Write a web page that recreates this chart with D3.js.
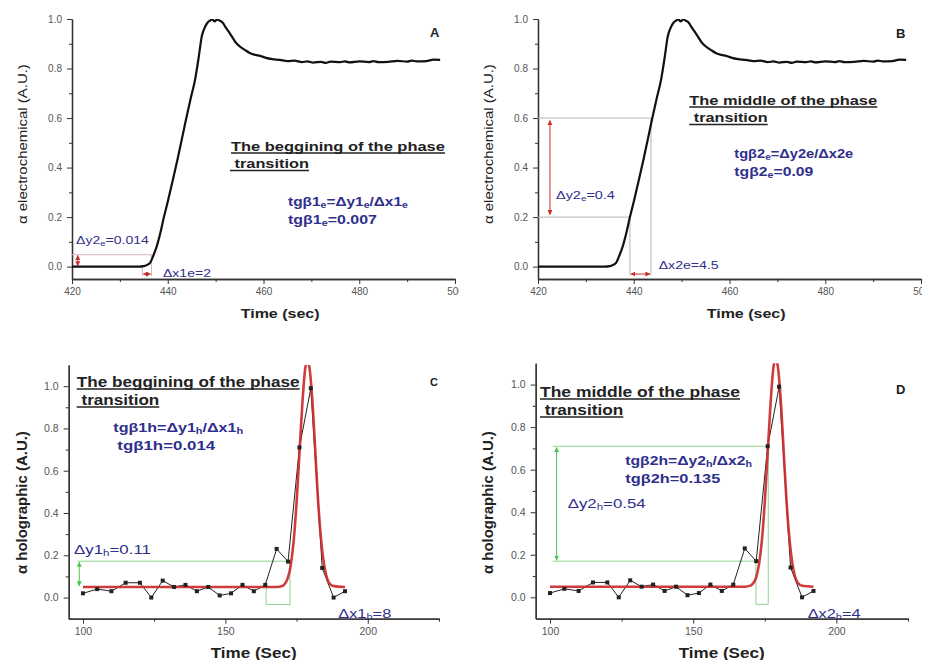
<!DOCTYPE html>
<html>
<head>
<meta charset="utf-8">
<script src="https://cdn.jsdelivr.net/npm/d3@7"></script>
<style>
body { margin: 0; background: #fff; }
text { font-family: "Liberation Sans", Arial, sans-serif; }
</style>
</head>
<body>
<svg id="chart" width="932" height="660"></svg>
<script>
//DATA - electrochemical signal (panels A, B)
const electroTime = [420, 425, 430, 434, 435, 435.6, 436.3, 437, 437.7, 438.5, 439.2, 440, 441, 442, 443, 443.8, 444.8, 445.7, 446.5, 447.1, 447.8, 448.3, 448.8, 449.3, 449.8, 450.3, 450.9, 451.5, 452, 452.7, 453.4, 454.2, 455, 456.1, 457.2, 458.3, 459.3, 460.5, 461.8, 463.4, 465, 466.5, 468, 469.2, 470.4, 472, 473, 474, 476, 477, 478, 480, 482, 483, 484, 486, 488, 490, 491, 492, 494, 495.5, 496.9];
const electroValue = [0, 0, 0, 0, 0.002, 0.006, 0.015, 0.045, 0.082, 0.14, 0.2, 0.262, 0.345, 0.43, 0.52, 0.593, 0.68, 0.754, 0.85, 0.929, 0.969, 0.985, 0.993, 0.998, 0.99, 0.998, 0.993, 0.985, 0.969, 0.95, 0.929, 0.905, 0.89, 0.875, 0.862, 0.855, 0.851, 0.843, 0.838, 0.835, 0.83, 0.832, 0.826, 0.829, 0.824, 0.827, 0.823, 0.828, 0.826, 0.829, 0.825, 0.829, 0.826, 0.83, 0.826, 0.827, 0.831, 0.828, 0.832, 0.829, 0.83, 0.836, 0.835];

//DATA - holographic signal (panels C, D)
const holoTime = [100, 105, 110, 115, 120, 124, 128, 132, 136, 140, 144, 148, 152, 156, 160, 164, 168, 172, 176, 180, 184, 188, 192];
const holoValue = [0.02, 0.04, 0.03, 0.07, 0.07, 0.0, 0.08, 0.05, 0.06, 0.03, 0.05, 0.01, 0.02, 0.06, 0.03, 0.06, 0.23, 0.17, 0.71, 0.99, 0.14, 0.0, 0.03];
//fitted peak (red)
const fitTime = [100, 166, 168, 170, 171, 172, 173, 174, 175, 176, 177, 178, 178.8, 179.6, 180.5, 181.5, 182.5, 183.5, 184.5, 185.5, 186.5, 188, 192];
const fitValue = [0.05, 0.05, 0.05, 0.055, 0.067, 0.095, 0.157, 0.27, 0.45, 0.68, 0.91, 1.08, 1.12, 1.08, 0.94, 0.71, 0.47, 0.29, 0.17, 0.1, 0.068, 0.054, 0.05];

//TICKS
const electroXTicks = [420, 440, 460, 480, 500];
const electroXMinor = [430, 450, 470, 490];
const holoXTicks = [100, 150, 200];
const holoXMinor = [125, 175, 225];
const yTicks = [0, 0.2, 0.4, 0.6, 0.8, 1.0];
const yMinor = [0.1, 0.3, 0.5, 0.7, 0.9];

const BLUE = '#2f2f8c';
const RED = '#cc2b2b';
const GREY = '#b4b4b4';
const GREEN = '#8fd28f';

const svg = d3.select('#chart');
const defs = svg.append('defs');

function marker(id, color) {
    defs.append('marker').attr('id', id)
        .attr('viewBox', '0 0 6 6').attr('refX', 5.5).attr('refY', 3)
        .attr('markerWidth', 5).attr('markerHeight', 5)
        .attr('orient', 'auto-start-reverse')
        .append('path').attr('d', 'M0,0 L6,3 L0,6 z').attr('fill', color);
}
marker('arRed', RED);
marker('arGreen', '#4cc44c');

const panels = [
    {key: 'A', ox: 0, oy: 0, clipW: 459, kind: 'e', xr: [72, 455], yr: [279, 19]},
    {key: 'B', ox: 466, oy: 0, clipW: 456, kind: 'e', xr: [72, 455], yr: [279, 19]},
    {key: 'C', ox: 0, oy: 330, clipW: 466, kind: 'h', xr: [68.7, 439], yr: [288.7, 35]},
    {key: 'D', ox: 466, oy: 330, clipW: 466, kind: 'h', xr: [69.7, 442], yr: [288.6, 33.3]}
];

//TEXT WITH SUBSCRIPTS ("_x" = subscript char), stretched to the width seen in the picture
function richText(g, t) {
    const size = t.size;
    const el = g.append('text').attr('x', 0).attr('y', 0).attr('xml:space', 'preserve')
        .attr('font-size', size).attr('font-weight', t.w).attr('fill', t.c);
    let shifted = false;
    t.s.split(/(_[a-z0-9])/).forEach(part => {
        if (!part) return;
        if (part[0] === '_') {
            el.append('tspan').attr('dy', shifted ? 0 : size * 0.18).attr('font-size', size * 0.68).text(part[1]);
            shifted = true;
        } else {
            el.append('tspan').attr('dy', shifted ? -size * 0.18 : 0).text(part);
            shifted = false;
        }
    });
    const w = el.node().getComputedTextLength();
    el.attr('transform', `translate(${t.x},${t.y}) scale(${t.tw / w},1)`);
    if (t.u) {
        g.append('line').attr('x1', t.x).attr('x2', t.x + t.tw)
            .attr('y1', t.y + 2.5).attr('y2', t.y + 2.5)
            .attr('stroke', t.c).attr('stroke-width', 1.3);
    }
}

function seg(g, x, y, p, color, width, mk) {
    const l = g.append('line')
        .attr('x1', x(p[0])).attr('y1', y(p[1]))
        .attr('x2', x(p[2])).attr('y2', y(p[3]))
        .attr('stroke', color).attr('stroke-width', width);
    if (mk) l.attr('marker-start', `url(#${mk})`).attr('marker-end', `url(#${mk})`);
}

//ANNOTATIONS (data units)
const annoLines = {
    A: [[420, 0.048, 436.6, 0.048], [434.7, 0, 434.7, -0.038], [436.6, 0.048, 436.6, -0.038]],
    B: [[420, 0.6, 443.6, 0.6], [420, 0.2, 439.2, 0.2], [439.2, 0.2, 439.2, -0.035], [443.6, 0.6, 443.6, -0.035]],
    C: [[98, 0.172, 172.7, 0.172], [164.3, 0.06, 164.3, -0.033], [172.7, 0.172, 172.7, -0.033], [164.3, -0.033, 172.7, -0.033]],
    D: [[101, 0.71, 176.2, 0.71], [101, 0.17, 171.9, 0.17], [171.9, 0.17, 171.9, -0.033], [176.2, 0.71, 176.2, -0.033], [171.9, -0.033, 176.2, -0.033]]
};
const annoArrows = {
    A: [[421.2, 0.003, 421.2, 0.045], [434.9, -0.03, 436.4, -0.03]],
    B: [[422.5, 0.21, 422.5, 0.59], [439.4, -0.03, 443.4, -0.03]],
    C: [[98.7, 0.055, 98.7, 0.167]],
    D: [[102.3, 0.175, 102.3, 0.705]]
};
const annoText = {
    A: [
        {s: 'The beggining of the phase', x: 231, y: 150.5, tw: 214, size: 13.5, w: 'bold', c: '#222', u: true},
        {s: ' transition', x: 230, y: 168, tw: 79, size: 13.5, w: 'bold', c: '#222', u: true},
        {s: 'tgβ1_e=Δy1_e/Δx1_e', x: 288, y: 206, tw: 120, size: 12, w: 'bold', c: BLUE},
        {s: 'tgβ1_e=0.007', x: 288, y: 223.5, tw: 89, size: 12, w: 'bold', c: BLUE},
        {s: 'Δy2_e=0.014', x: 76, y: 244, tw: 73, size: 11.5, w: 'normal', c: BLUE},
        {s: 'Δx1e=2', x: 163, y: 276.5, tw: 48, size: 11.5, w: 'normal', c: BLUE}
    ],
    B: [
        {s: 'The middle of the phase', x: 223.3, y: 104.5, tw: 188, size: 13.5, w: 'bold', c: '#222', u: true},
        {s: ' transition', x: 223.3, y: 122, tw: 78.4, size: 13.5, w: 'bold', c: '#222', u: true},
        {s: 'tgβ2_e=Δy2e/Δx2e', x: 268.3, y: 158, tw: 119, size: 12, w: 'bold', c: BLUE},
        {s: 'tgβ2_e=0.09', x: 268.3, y: 176, tw: 79, size: 12, w: 'bold', c: BLUE},
        {s: 'Δy2_e=0.4', x: 90, y: 199, tw: 59, size: 11.5, w: 'normal', c: BLUE},
        {s: 'Δx2e=4.5', x: 192.7, y: 269, tw: 60, size: 11.5, w: 'normal', c: BLUE}
    ],
    C: [
        {s: 'The beggining of the phase', x: 76.7, y: 56.5, tw: 223, size: 14, w: 'bold', c: '#222', u: true},
        {s: ' transition', x: 76.7, y: 74.5, tw: 82.6, size: 14, w: 'bold', c: '#222', u: true},
        {s: 'tgβ1h=Δy1_h/Δx1_h', x: 113.3, y: 101.5, tw: 130, size: 13, w: 'bold', c: BLUE},
        {s: 'tgβ1h=0.014', x: 117.3, y: 120, tw: 98, size: 13, w: 'bold', c: BLUE},
        {s: 'Δy1_h=0.11', x: 74, y: 224, tw: 77, size: 13.5, w: 'normal', c: BLUE},
        {s: 'Δx1_h=8', x: 338.3, y: 287.5, tw: 53, size: 13.5, w: 'normal', c: BLUE}
    ],
    D: [
        {s: 'The middle of the phase', x: 74, y: 66.5, tw: 200, size: 14, w: 'bold', c: '#222', u: true},
        {s: ' transition', x: 74, y: 84.5, tw: 83.3, size: 14, w: 'bold', c: '#222', u: true},
        {s: 'tgβ2h=Δy2_h/Δx2_h', x: 159.3, y: 135, tw: 127, size: 13, w: 'bold', c: BLUE},
        {s: 'tgβ2h=0.135', x: 159.3, y: 153, tw: 95, size: 13, w: 'bold', c: BLUE},
        {s: 'Δy2_h=0.54', x: 101.7, y: 177.5, tw: 78, size: 13.5, w: 'normal', c: BLUE},
        {s: 'Δx2_h=4', x: 341.7, y: 287.5, tw: 53, size: 13.5, w: 'normal', c: BLUE}
    ]
};

panels.forEach(p => {
    const isE = p.kind === 'e';
    const xd = isE ? [420, 500] : [95, 225];
    const yd = isE ? [-0.05, 1.0] : [-0.1, 1.1];
    const x = d3.scaleLinear().domain(xd).range(p.xr);
    const y = d3.scaleLinear().domain(yd).range(p.yr);

    defs.append('clipPath').attr('id', 'clip' + p.key)
        .append('rect').attr('x', 0).attr('y', 0).attr('width', p.clipW).attr('height', 330);
    defs.append('clipPath').attr('id', 'plot' + p.key)
        .append('rect').attr('x', p.xr[0]).attr('y', p.yr[1])
        .attr('width', p.xr[1] - p.xr[0]).attr('height', p.yr[0] - p.yr[1]);

    const g = svg.append('g').attr('transform', `translate(${p.ox},${p.oy})`)
        .attr('clip-path', `url(#clip${p.key})`);

    const tickFont = isE ? 10 : 10.5;
    //AXES
    const xAxis = g.append('g').attr('transform', `translate(0,${p.yr[0]})`)
        .call(d3.axisBottom(x).tickValues(isE ? electroXTicks : holoXTicks)
            .tickFormat(d3.format('d')).tickSize(5).tickSizeOuter(0).tickPadding(4));
    g.append('g').attr('transform', `translate(0,${p.yr[0]})`)
        .call(d3.axisBottom(x).tickValues(isE ? electroXMinor : holoXMinor)
            .tickFormat('').tickSize(3).tickSizeOuter(0));
    const yAxis = g.append('g').attr('transform', `translate(${p.xr[0]},0)`)
        .call(d3.axisLeft(y).tickValues(yTicks).tickFormat(d3.format('.1f'))
            .tickSize(5).tickSizeOuter(0).tickPadding(5));
    g.append('g').attr('transform', `translate(${p.xr[0]},0)`)
        .call(d3.axisLeft(y).tickValues(yMinor).tickFormat('').tickSize(3).tickSizeOuter(0));
    g.selectAll('.domain').attr('stroke', '#333').attr('stroke-width', 1.3);
    g.selectAll('.tick line').attr('stroke', '#333');
    [xAxis, yAxis].forEach(a => a.selectAll('text')
        .attr('font-size', tickFont).attr('fill', '#555')
        .style('font-family', '"Liberation Sans", Arial, sans-serif'));

    //AXIS TITLES
    richText(g, {s: isE ? 'Time (sec)' : 'Time (Sec)', x: isE ? 240.7 : (p.key === 'C' ? 210.7 : 212.7),
        y: isE ? 318 : 328, tw: isE ? 79 : 86, size: isE ? 13.5 : 14.5, w: 'bold', c: '#222'});
    const yl = g.append('g').attr('transform', `translate(${isE ? 27 : 27},${isE ? 224 : 244}) rotate(-90)`);
    richText(yl, {s: isE ? 'α electrochemical (A.U.)' : 'α holographic (A.U.)', x: 0, y: 0,
        tw: isE ? 160 : 143, size: isE ? 13 : 14, w: isE ? 'normal' : 'bold', c: '#222'});

    //PANEL LETTER
    g.append('text').attr('x', 430).attr('y', p.key === 'A' ? 37 : p.key === 'B' ? 38 : p.key === 'C' ? 56 : 64)
        .attr('font-size', p.key === 'C' ? 11 : 13).attr('font-weight', 'bold').attr('fill', '#222')
        .text(p.key);

    //ANNOTATION LINES
    const lineColor = isE ? GREY : GREEN;
    annoLines[p.key].forEach(l => seg(g, x, y, l, p.key === 'A' ? '#d8b4b4' : lineColor, 1, null));
    annoArrows[p.key].forEach(l => seg(g, x, y, l, isE ? RED : '#4cc44c', 1, isE ? 'arRed' : 'arGreen'));

    //SERIES
    const plot = g.append('g').attr('clip-path', `url(#plot${p.key})`);
    if (isE) {
        plot.append('path').datum(d3.zip(electroTime, electroValue))
            .attr('d', d3.line().x(d => x(d[0])).y(d => y(d[1])).curve(d3.curveMonotoneX))
            .attr('fill', 'none').attr('stroke', '#111').attr('stroke-width', 2.2);
    } else {
        const pts = d3.zip(holoTime, holoValue);
        plot.append('path').datum(pts).attr('d', d3.line().x(d => x(d[0])).y(d => y(d[1])))
            .attr('fill', 'none').attr('stroke', '#222').attr('stroke-width', 1);
        plot.append('path').datum(d3.zip(fitTime, fitValue))
            .attr('d', d3.line().x(d => x(d[0])).y(d => y(d[1])).curve(d3.curveMonotoneX))
            .attr('fill', 'none').attr('stroke', RED).attr('stroke-width', 2.6).attr('stroke-opacity', 0.92);
        plot.selectAll('.pt').data(pts).enter().append('rect')
            .attr('x', d => x(d[0]) - 2).attr('y', d => y(d[1]) - 2)
            .attr('width', 4).attr('height', 4).attr('fill', '#222');
    }

    //TEXT
    annoText[p.key].forEach(t => richText(g, t));
});
</script>
</body>
</html>
